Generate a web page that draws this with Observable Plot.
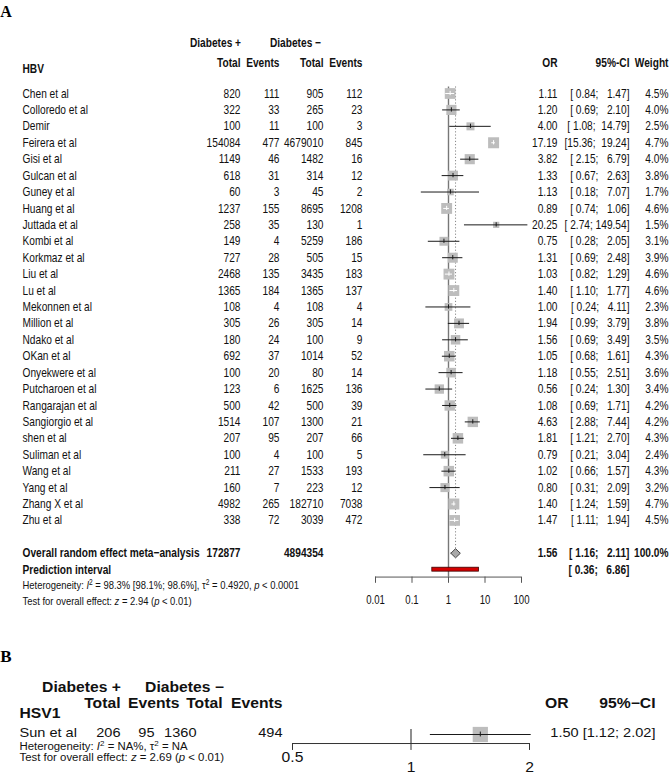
<!DOCTYPE html>
<html><head><meta charset="utf-8">
<script src="https://cdn.jsdelivr.net/npm/d3@7"></script>
<script src="https://cdn.jsdelivr.net/npm/@observablehq/plot@0.6"></script>
<style>
body{margin:0;background:#fff;width:670px;height:775px;overflow:hidden;position:relative}
#a{position:absolute;left:0;top:0}
#b{position:absolute;left:0;top:640px}
svg text{white-space:pre}
</style></head><body><div id="a"></div><div id="b"></div>
<script>
// ---------- Panel A data (HBV) ----------
const studies = ["Chen et al","Colloredo et al","Demir","Feirera et al","Gisi et al","Gulcan et al","Guney et al","Huang et al","Juttada et al","Kombi et al","Korkmaz et al","Liu et al","Lu et al","Mekonnen et al","Million et al","Ndako et al","OKan et al","Onyekwere et al","Putcharoen et al","Rangarajan et al","Sangiorgio et al","shen et al","Suliman et al","Wang et al","Yang et al","Zhang X et al","Zhu et al"];
const totalPos = [820,322,100,154084,1149,618,60,1237,258,149,727,2468,1365,108,305,180,692,100,123,500,1514,207,100,211,160,4982,338];
const eventsPos = [111,33,11,477,46,31,3,155,35,4,28,135,184,4,26,24,37,20,6,42,107,95,4,27,7,265,72];
const totalNeg = [905,265,100,4679010,1482,314,45,8695,130,5259,505,3435,1365,108,305,100,1014,80,1625,500,1300,207,100,1533,223,182710,3039];
const eventsNeg = [112,23,3,845,16,12,2,1208,1,186,15,183,137,4,14,9,52,14,136,39,21,66,5,193,12,7038,472];
const oddsRatio = [1.11,1.20,4.00,17.19,3.82,1.33,1.13,0.89,20.25,0.75,1.31,1.03,1.40,1.00,1.94,1.56,1.05,1.18,0.56,1.08,4.63,1.81,0.79,1.02,0.80,1.40,1.47];
const ciLower = [0.84,0.69,1.08,15.36,2.15,0.67,0.18,0.74,2.74,0.28,0.69,0.82,1.10,0.24,0.99,0.69,0.68,0.55,0.24,0.69,2.88,1.21,0.21,0.66,0.31,1.24,1.11];
const ciUpper = [1.47,2.10,14.79,19.24,6.79,2.63,7.07,1.06,149.54,2.05,2.48,1.29,1.77,4.11,3.79,3.49,1.61,2.51,1.30,1.71,7.44,2.70,3.04,1.57,2.09,1.59,1.94];
const weights = [4.5,4.0,2.5,4.7,4.0,3.8,1.7,4.6,1.5,3.1,3.9,4.6,4.6,2.3,3.8,3.5,4.3,3.6,3.4,4.2,4.2,4.3,2.4,4.3,3.2,4.7,4.5];
const overallTotals = [172877, 4894354];
const overallEst = [1.56, 1.16, 2.11];
const predInterval = [0.36, 6.86];
const axisTicksA = [0.01, 0.1, 1, 10, 100];
const axisLabelsA = ["0.01","0.1","1","10","100"];

// ---------- Panel B data (HSV1) ----------
const studiesB = ["Sun et al"];
const totalPosB = [206];
const eventsPosB = [95];
const totalNegB = [1360];
const eventsNegB = [494];
const orB = [1.50];
const lowerB = [1.12];
const upperB = [2.02];
const axisTicksB = [0.5, 1, 2];
const axisLabelsB = ["0.5","1","2"];

// ---------- Layout ----------
const SANS = '"Liberation Sans",Arial,sans-serif';
const SERIF = '"Liberation Serif","Times New Roman",serif';
const MLA = 375, MRA = 149, ROWH = 16.42, ROW0 = 93, HA = 640;
const FSA = 12.7;
const colA = px => px - MLA;

const rowsA = studies.map((s, i) => ({
  row: i, study: s, tp: totalPos[i], ep: eventsPos[i], tn: totalNeg[i], en: eventsNeg[i],
  or: oddsRatio[i], lo: ciLower[i], hi: ciUpper[i], w: weights[i]
}));
const pxPerDecade = (670 - MLA - MRA) / 4;
const rMax = 6.2, wMax = 4.7;
const inside = d => pxPerDecade * Math.log10(d.hi / d.lo) < Math.sqrt(Math.PI) * rMax * Math.sqrt(d.w / wMax);
const lineCol = d => inside(d) ? "#ffffff" : "#1a1a1a";

// R-style CI string: fixed character widths, right aligned
const fmtCI = (lo, hi) => "[" + lo.toFixed(2).padStart(5, " ") + "; " + hi.toFixed(2).padStart(6, " ") + "]";

const txt = (data, opts) => Plot.text(data, {frameAnchor: "left", fontFamily: SANS, fontSize: FSA, fill: "#111", ...opts});

function col(px, field, anchor, extra = {}) {
  return txt(rowsA, {y: "row", text: field, dx: colA(px), textAnchor: anchor, ...extra});
}

const headersA = [
  {t: "Diabetes +", r: -3.05, px: 215, a: "middle"},
  {t: "Diabetes \u2212", r: -3.05, px: 295, a: "middle"},
  {t: "Total", r: -1.89, px: 240, a: "end"},
  {t: "Events", r: -1.89, px: 279, a: "end"},
  {t: "Total", r: -1.89, px: 323, a: "end"},
  {t: "Events", r: -1.89, px: 362, a: "end"},
  {t: "OR", r: -1.89, px: 557, a: "end"},
  {t: "95%-CI", r: -1.89, px: 629, a: "end"},
  {t: "Weight", r: -1.89, px: 668, a: "end"},
  {t: "HBV", r: -1.52, px: 22, a: "start"}
];

const ovRow = 28, prRow = 29;
const overallTexts = [
  {t: "Overall random effect meta\u2212analysis", r: ovRow, px: 22, a: "start"},
  {t: String(overallTotals[0]), r: ovRow, px: 240, a: "end"},
  {t: String(overallTotals[1]), r: ovRow, px: 323, a: "end"},
  {t: overallEst[0].toFixed(2), r: ovRow, px: 557, a: "end"},
  {t: fmtCI(overallEst[1], overallEst[2]), r: ovRow, px: 629, a: "end"},
  {t: "100.0%", r: ovRow, px: 668, a: "end"},
  {t: "Prediction interval", r: prRow, px: 22, a: "start"},
  {t: fmtCI(predInterval[0], predInterval[1]), r: prRow, px: 629, a: "end"}
];

const axisRowA = 29.45;
const diamond = [
  {x: overallEst[1], y: ovRow}, {x: overallEst[0], y: ovRow - 0.28},
  {x: overallEst[2], y: ovRow}, {x: overallEst[0], y: ovRow + 0.28},
  {x: overallEst[1], y: ovRow}
];

const plotA = Plot.plot({
  width: 670, height: HA,
  marginLeft: MLA, marginRight: MRA, marginTop: 0, marginBottom: 0,
  style: {fontFamily: SANS, fontSize: "13px", background: "white", color: "#111"},
  x: {type: "log", domain: [0.01, 100], axis: null},
  y: {domain: [-ROW0 / ROWH, (HA - ROW0) / ROWH], reverse: true, axis: null},
  r: {type: "sqrt", domain: [0, wMax], range: [0, rMax]},
  marks: [
    Plot.ruleX([1], {y1: -0.4, y2: axisRowA, stroke: "#777", strokeWidth: 1.4}),
    Plot.ruleX([overallEst[0]], {y1: -0.4, y2: ovRow - 0.28, stroke: "#888", strokeWidth: 1, strokeDasharray: "1.2,2"}),
    Plot.dot(rowsA, {x: "or", y: "row", r: "w", symbol: "square", fill: "#bdbdbd", stroke: null}),
    Plot.ruleY(rowsA, {y: "row", x1: "lo", x2: "hi", stroke: lineCol, strokeWidth: 1}),
    Plot.ruleX(rowsA, {x: "or", y1: d => d.row - 0.13, y2: d => d.row + 0.13, stroke: lineCol, strokeWidth: 1}),
    Plot.line(diamond, {x: "x", y: "y", fill: "#a9a9a9", stroke: "#444", strokeWidth: 1}),
    Plot.rect([predInterval], {x1: d => d[0], x2: d => d[1], y1: prRow - 0.12, y2: prRow + 0.12, fill: "#d40000", stroke: "#3a0000", strokeWidth: 0.8}),
    Plot.ruleY([axisRowA], {x1: axisTicksA[0], x2: axisTicksA[axisTicksA.length - 1], stroke: "#555"}),
    Plot.ruleX(axisTicksA, {x: d => d, y1: axisRowA, y2: axisRowA + 0.38, stroke: "#555"}),
    Plot.text(axisTicksA, {x: d => d, y: 30.88, text: (d, i) => axisLabelsA[i], fontFamily: SANS, fontSize: 12, fill: "#111"}),
    col(22, "study", "start"),
    col(240, d => String(d.tp), "end"),
    col(279, d => String(d.ep), "end"),
    col(323, d => String(d.tn), "end"),
    col(362, d => String(d.en), "end"),
    col(557, d => d.or.toFixed(2), "end"),
    col(629, d => fmtCI(d.lo, d.hi), "end"),
    col(668, d => d.w.toFixed(1) + "%", "end"),
    ...headersA.map(h => txt([h], {y: h.r, text: () => h.t, dx: colA(h.px), textAnchor: h.a, fontWeight: "bold"})),
    ...overallTexts.map(h => txt([h], {y: h.r, text: () => h.t, dx: colA(h.px), textAnchor: h.a, fontWeight: "bold"})),
    txt([0], {y: 29.96, text: () => "Heterogeneity: I2 = 98.3% [98.1%; 98.6%], t2 = 0.4920, p < 0.0001", dx: colA(22), textAnchor: "start", fontSize: 11.8}),
    txt([0], {y: 30.93, text: () => "Test for overall effect: z = 2.94 (p < 0.01)", dx: colA(22), textAnchor: "start", fontSize: 11.8})
  ]
});

// ---------- Panel B ----------
const MLB = 292, MRB = 141, HB = 135, ROWHB = 11, TOPB = -94 / 11;
const colB = px => px - MLB;
const rowsB = studiesB.map((s, i) => ({row: 0, study: s, tp: totalPosB[i], ep: eventsPosB[i], tn: totalNegB[i], en: eventsNegB[i], or: orB[i], lo: lowerB[i], hi: upperB[i]}));
const txtB = (data, opts) => Plot.text(data, {frameAnchor: "left", fontFamily: SANS, fontSize: 13, fill: "#111", ...opts});
const textRowB = -0.18;
const colBm = (px, field, anchor, extra = {}) => txtB(rowsB, {y: () => textRowB, text: field, dx: colB(px), textAnchor: anchor, ...extra});
const headersB = [
  {t: "Diabetes +", r: -4.27, px: 81, a: "middle"},
  {t: "Diabetes \u2212", r: -4.27, px: 184, a: "middle"},
  {t: "Total", r: -2.82, px: 120, a: "end"},
  {t: "Events", r: -2.82, px: 179, a: "end"},
  {t: "Total", r: -2.82, px: 222, a: "end"},
  {t: "Events", r: -2.82, px: 282, a: "end"},
  {t: "OR", r: -2.82, px: 568, a: "end"},
  {t: "95%\u2212CI", r: -2.82, px: 655, a: "end"},
  {t: "HSV1", r: -1.89, px: 19, a: "start"}
];
const axisRowB = 0.82;
const plotB = Plot.plot({
  width: 670, height: HB,
  marginLeft: MLB, marginRight: MRB, marginTop: 0, marginBottom: 0,
  style: {fontFamily: SANS, fontSize: "14px", background: "white", color: "#111"},
  x: {type: "log", domain: [axisTicksB[0], axisTicksB[axisTicksB.length - 1]], axis: null},
  y: {domain: [TOPB, TOPB + HB / ROWHB], reverse: true, axis: null},
  marks: [
    Plot.ruleX([1], {y1: -0.45, y2: axisRowB, stroke: "#444", strokeWidth: 1.2}),
    Plot.dot(rowsB, {x: "or", y: "row", r: 8.6, symbol: "square", fill: "#bdbdbd", stroke: null}),
    Plot.ruleY(rowsB, {y: "row", x1: "lo", x2: "hi", stroke: "#1a1a1a", strokeWidth: 1}),
    Plot.ruleX(rowsB, {x: "or", y1: -0.22, y2: 0.22, stroke: "#1a1a1a"}),
    Plot.ruleY([axisRowB], {x1: axisTicksB[0], x2: axisTicksB[axisTicksB.length - 1], stroke: "#333"}),
    Plot.ruleX(axisTicksB, {x: d => d, y1: axisRowB, y2: axisRowB + 0.63, stroke: "#333"}),
    Plot.text(axisTicksB, {x: d => d, y: (d, i) => i === 0 ? 2.05 : 3.0, text: (d, i) => axisLabelsB[i], fontFamily: SANS, fontSize: 14, fill: "#111"}),
    colBm(19, "study", "start"),
    colBm(120, d => String(d.tp), "end"),
    colBm(154, d => String(d.ep), "end"),
    colBm(196, d => String(d.tn), "end"),
    colBm(282, d => String(d.en), "end"),
    colBm(655, d => `${d.or.toFixed(2)} [${d.lo.toFixed(2)}; ${d.hi.toFixed(2)}]`, "end"),
    ...headersB.map(h => txtB([h], {y: h.r, text: () => h.t, dx: colB(h.px), textAnchor: h.a, fontWeight: "bold", fontSize: 14})),
    txtB([0], {y: 1.1, text: () => "Heterogeneity: I2 = NA%, t2 = NA", dx: colB(19), textAnchor: "start", fontSize: 10.2}),
    txtB([0], {y: 2.08, text: () => "Test for overall effect: z = 2.69 (p < 0.01)", dx: colB(19), textAnchor: "start", fontSize: 10.2})
  ]
});

document.getElementById("a").appendChild(plotA);
document.getElementById("b").appendChild(plotB);

// rich text (italics, superscripts)
const sup = s => `<tspan dy="-4" font-size="70%">${s}</tspan><tspan dy="4">`;
const it = s => `<tspan font-style="italic">${s}</tspan>`;
function rich(root, starts, html) {
  root.querySelectorAll("text").forEach(t => { if (t.textContent.startsWith(starts)) t.innerHTML = html; });
}
rich(plotA, "Heterogeneity", `Heterogeneity: ${it("I")}${sup("2")} = 98.3% [98.1%; 98.6%], \u03c4</tspan>${sup("2")} = 0.4920, </tspan>${it("p")} &lt; 0.0001`);
rich(plotA, "Test for overall", `Test for overall effect: ${it("z")} = 2.94 (${it("p")} &lt; 0.01)`);
rich(plotB, "Heterogeneity", `Heterogeneity: ${it("I")}${sup("2")} = NA%, \u03c4</tspan>${sup("2")} = NA</tspan>`);
rich(plotB, "Test for overall", `Test for overall effect: ${it("z")} = 2.69 (${it("p")} &lt; 0.01)`);

// horizontal squeeze / stretch of the text glyphs, around each text's anchor
function squeeze(root, sx) {
  root.querySelectorAll("text").forEach(t => {
    const tr = t.getAttribute("transform");
    if (tr) t.setAttribute("transform", tr + ` scale(${sx},1)`);
    else {
      const x = +t.getAttribute("x") || 0, y = +t.getAttribute("y") || 0;
      t.removeAttribute("x"); t.removeAttribute("y");
      t.setAttribute("transform", `translate(${x},${y}) scale(${sx},1)`);
    }
  });
}
squeeze(plotA, 0.8);
squeeze(plotB, 1.12);

// panel letters
function addLetter(plot, letter, x, y, size) {
  const t = document.createElementNS("http://www.w3.org/2000/svg", "text");
  t.setAttribute("x", x); t.setAttribute("y", y);
  t.setAttribute("font-family", SERIF); t.setAttribute("font-weight", "bold");
  t.setAttribute("font-size", size); t.setAttribute("fill", "#000");
  t.textContent = letter;
  plot.appendChild(t);
}
addLetter(plotA, "A", 6, 17, 16);
addLetter(plotB, "B", 6, 22, 17);
</script>
</body></html>
